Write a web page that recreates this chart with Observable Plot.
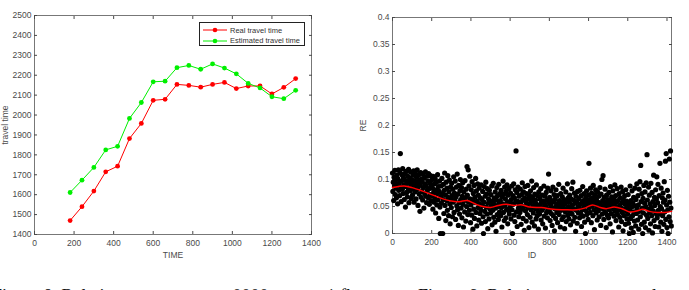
<!DOCTYPE html>
<html><head><meta charset="utf-8">
<script src="https://cdn.jsdelivr.net/npm/d3@7"></script>
<script src="https://cdn.jsdelivr.net/npm/@observablehq/plot@0.6"></script>
<style>
html,body{margin:0;padding:0;background:#fff;}
#wrap{position:relative;width:689px;height:290px;overflow:hidden;background:#fff;}
.panel{position:absolute;top:0;}
.legend{position:absolute;left:199px;top:22px;width:104px;height:22px;border:1px solid #222;background:#fff;font:7.5px "Liberation Sans",Arial,sans-serif;color:#333;}
.legend .row{position:absolute;left:3px;height:8px;display:flex;align-items:center;white-space:nowrap;}
.legend svg{margin-right:3px;}
.caption{position:absolute;top:286px;font:18px "Liberation Serif","Times New Roman",serif;color:#111;white-space:nowrap;}
</style></head>
<body>
<div id="wrap">
  <div id="left" class="panel" style="left:0"></div>
  <div id="right" class="panel" style="left:345px"></div>
  <div id="legend" class="legend"></div>
  <div class="caption" style="left:-8px">Figure 8. Relative error curve on 0000 among 1 floor</div>
  <div class="caption" style="left:418px">Figure 9. Relative error scatter plot</div>
</div>
<script>
// ---------- left panel data ----------
const timeX = [180,240,300,360,420,480,540,600,660,720,780,840,900,960,1020,1080,1140,1200,1260,1320];
const realTravel = [1470,1540,1618,1715,1743,1882,1958,2074,2079,2154,2149,2140,2154,2164,2133,2146,2146,2106,2139,2183];
const estTravel  = [1611,1673,1737,1825,1843,1983,2063,2167,2170,2238,2249,2230,2257,2236,2207,2159,2136,2092,2082,2124];
const seriesNames = ["Real travel time","Estimated travel time"];
const seriesColors = ["#ff0000","#00f000"];
const timeTicks = [0,200,400,600,800,1000,1200,1400];
const travelTicks = [1400,1500,1600,1700,1800,1900,2000,2100,2200,2300,2400,2500];

// ---------- right panel data ----------
// RE values (x1000), one for every 2nd ID starting at ID 0
const idStep = 2;
const reMilli = [
112,78,95,61,104,88,117,72,99,84,66,108,91,55,101,118,80,93,70,113,148,86,59,97,109,
82,120,74,103,90,63,111,87,49,98,115,76,93,68,106,84,119,57,95,102,79,114,88,65,100,
92,71,108,83,116,58,97,77,112,89,64,104,81,118,95,52,86,109,73,99,41,90,113,67,101,
78,96,62,110,85,47,103,74,91,114,69,88,57,106,80,97,66,111,83,54,94,72,107,61,89,
99,70,84,45,106,76,58,92,65,101,38,81,95,53,74,109,62,87,28,78,97,49,0,69,88,
56,102,74,0,63,91,37,80,112,52,71,24,95,61,84,43,107,67,33,77,99,55,18,86,64,
48,93,70,31,82,58,105,39,75,62,97,26,68,86,51,110,44,73,15,89,57,36,79,100,63,
47,85,29,69,94,54,12,77,61,40,98,66,23,82,50,124,71,35,118,58,88,43,106,64,20,
53,81,34,96,62,8,74,45,89,28,67,57,102,39,79,14,60,92,48,71,25,84,55,37,66,
44,90,19,63,52,78,31,0,58,87,41,69,22,95,49,73,36,83,9,56,64,27,80,46,60,
38,72,51,88,16,59,43,93,30,66,54,21,77,47,4,62,85,35,70,50,26,91,57,40,74,
61,33,80,48,12,68,55,97,39,73,24,86,52,64,29,78,45,90,57,18,71,42,83,36,59,
49,75,27,63,88,44,0,70,54,92,34,66,22,81,58,153,40,76,13,60,86,47,31,69,53,
39,82,57,17,72,45,94,62,28,77,50,6,66,87,42,59,23,74,53,35,89,48,65,11,71,
56,30,79,44,63,97,21,68,51,38,85,59,14,73,46,62,27,90,54,33,70,41,8,77,49,
36,64,52,83,25,58,43,71,18,60,47,88,32,55,69,10,50,76,39,62,29,84,45,110,57,
42,67,24,53,79,37,61,15,48,86,33,58,72,5,46,64,28,81,51,39,70,20,56,44,91,
35,61,49,12,74,43,57,26,68,52,84,31,47,63,9,55,40,77,22,59,45,92,34,66,50,
27,58,71,41,16,64,48,83,36,53,95,23,62,45,75,30,56,4,69,43,59,19,78,50,38,
65,47,29,80,54,37,70,13,58,44,87,32,61,49,74,21,56,0,67,42,79,35,60,52,26,
71,130,48,63,39,84,57,20,75,51,66,33,89,60,44,7,72,55,81,38,64,49,25,77,58,
42,69,31,56,85,47,15,73,52,100,36,61,107,45,26,67,53,82,39,58,11,71,48,34,63,
55,29,76,44,62,18,87,50,37,68,57,3,79,46,64,32,53,90,41,70,24,59,48,83,35,
61,43,12,74,52,30,66,48,86,22,57,39,78,5,63,45,33,70,54,17,81,42,60,27,50,
36,72,19,55,0,44,88,28,61,10,49,79,33,57,2,67,40,23,84,51,14,63,37,92,46,
25,70,53,8,82,41,96,31,126,59,17,74,47,0,65,38,89,21,56,77,11,50,94,34,146,
62,28,45,86,6,71,39,55,18,93,48,33,76,1,59,42,108,24,67,52,13,81,37,64,105,
29,57,91,43,12,70,36,130,50,21,84,46,4,66,33,75,58,17,96,40,62,134,26,148,53,
11,80,44,0,69,31,138,58,22,153,47,14
];
const trendID = [0,30,60,100,150,200,250,300,340,380,420,460,500,540,580,620,660,700,760,820,880,940,980,1020,1060,1090,1130,1170,1210,1250,1275,1310,1350,1390,1423];
const trendRE = [0.085,0.087,0.088,0.085,0.079,0.072,0.065,0.060,0.059,0.061,0.055,0.050,0.048,0.052,0.054,0.052,0.053,0.049,0.048,0.045,0.044,0.044,0.047,0.053,0.048,0.046,0.049,0.046,0.040,0.042,0.045,0.041,0.039,0.039,0.041];
const idTicks = [0,200,400,600,800,1000,1200,1400];
const reTicks = [0,0.05,0.1,0.15,0.2,0.25,0.3,0.35,0.4];

// ---------- build ----------
const baseStyle = {fontFamily:'"Liberation Sans", Arial, sans-serif', fontSize:"8.5px", color:"#4a4a4a", background:"transparent", overflow:"visible"};
const fmt = d => String(d);

function frameAxes(xt, yt, xLabel, yLabel, xOff, yOff) {
  return [
    Plot.frame({stroke:"#777", strokeWidth:1}),
    Plot.axisX({anchor:"bottom", ticks:xt, tickSize:-3, tickPadding:8, tickFormat:fmt, label:xLabel, labelAnchor:"center", labelArrow:"none", labelOffset:xOff}),
    Plot.axisX({anchor:"top", ticks:xt, tickSize:-3, tickFormat:()=>"", label:null}),
    Plot.axisY({anchor:"left", ticks:yt, tickSize:-3, tickPadding:6, tickFormat:fmt, label:yLabel, labelAnchor:"center", labelArrow:"none", labelOffset:yOff}),
    Plot.axisY({anchor:"right", ticks:yt, tickSize:-3, tickFormat:()=>"", label:null})
  ];
}

const travelRows = timeX.flatMap((t,i) => [
  {time:t, value:realTravel[i], series:seriesNames[0]},
  {time:t, value:estTravel[i], series:seriesNames[1]}
]);

const leftPlot = Plot.plot({
  width:345, height:270, marginLeft:34, marginRight:34, marginTop:15, marginBottom:36,
  style: baseStyle,
  x:{domain:[0,1400]},
  y:{domain:[1400,2500]},
  color:{domain:seriesNames, range:seriesColors},
  marks:[
    ...frameAxes(timeTicks, travelTicks, "TIME", "travel time", 23, 33),
    Plot.line(travelRows, {x:"time", y:"value", z:"series", stroke:"series", strokeWidth:1}),
    Plot.dot(travelRows, {x:"time", y:"value", fill:"series", r:2.4})
  ]
});
document.getElementById("left").appendChild(leftPlot);

const reRows = reMilli.map((v,i) => ({id:i*idStep, re:v/1000}));
const trendRows = trendID.map((id,i) => ({id, re:trendRE[i]}));

const rightPlot = Plot.plot({
  width:344, height:270, marginLeft:47, marginRight:18, marginTop:17, marginBottom:37,
  style: baseStyle,
  x:{domain:[0,1423]},
  y:{domain:[0,0.4]},
  marks:[
    ...frameAxes(idTicks, reTicks, "ID", "RE", 24, 33),
    Plot.dot(reRows, {x:"id", y:"re", r:2.6, fill:"#000"}),
    Plot.line(trendRows, {x:"id", y:"re", stroke:"#ff0000", strokeWidth:1.5, curve:"catmull-rom"})
  ]
});
document.getElementById("right").appendChild(rightPlot);

// legend
const lg = document.getElementById("legend");
seriesNames.forEach((name,i) => {
  const row = document.createElement("div");
  row.className = "row";
  row.style.top = (i === 0 ? 3 : 13.5) + "px";
  row.innerHTML = `<svg width="24" height="8"><line x1="0" y1="4" x2="24" y2="4" stroke="${seriesColors[i]}" stroke-width="1"/><circle cx="12" cy="4" r="2.3" fill="${seriesColors[i]}"/></svg><span>${name}</span>`;
  lg.appendChild(row);
});
</script>
</body></html>
